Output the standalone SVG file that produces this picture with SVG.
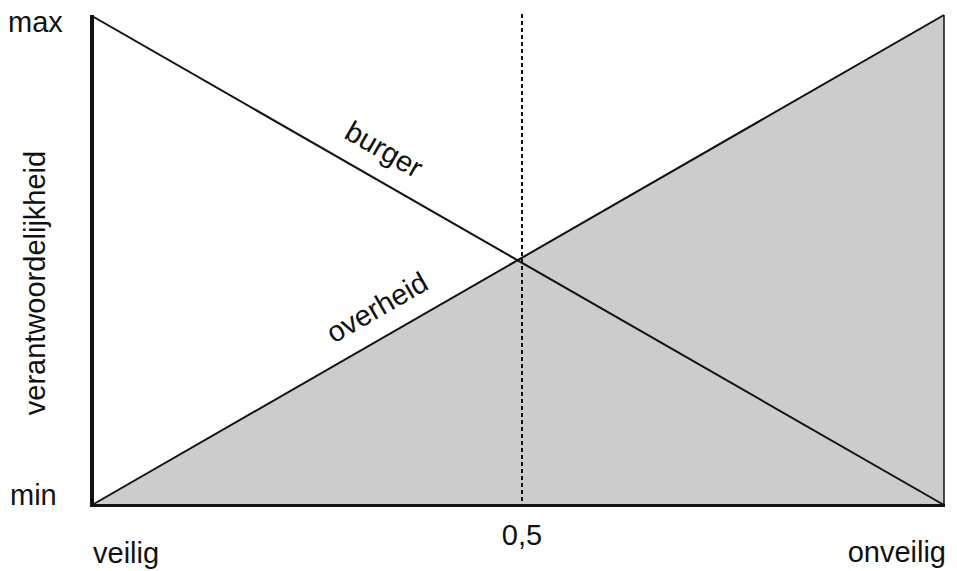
<svg xmlns="http://www.w3.org/2000/svg" width="957" height="571" viewBox="0 0 957 571">
<style>
text{font-family:"Liberation Sans",Arial,sans-serif;font-size:29px;fill:#111;}
.ln{stroke:#111;fill:none;}
</style>
<rect width="957" height="571" fill="#fff"/>
<g id="area">
<polygon points="92,505 944,15 944,505" fill="#cccccc"/>
</g>
<g id="connectors">
<line id="overheid-line" class="ln" x1="92" y1="505" x2="944" y2="15" stroke-width="2"/>
<line id="burger-line" class="ln" x1="92" y1="16" x2="944" y2="505" stroke-width="2"/>
<line id="right-edge" class="ln" x1="944" y1="15" x2="944" y2="505" stroke-width="1.5"/>
<line id="midline" class="ln" x1="522" y1="14" x2="522" y2="505" stroke-width="2" stroke-dasharray="4,3"/>
<line id="x-axis" class="ln" x1="90" y1="505.5" x2="945" y2="505.5" stroke-width="3"/>
<line id="y-axis" class="ln" x1="92" y1="15" x2="92" y2="507" stroke-width="4"/>
</g>
<g id="labels">
<text x="8" y="32">max</text>
<text x="10" y="505">min</text>
<text x="93" y="563">veilig</text>
<text x="522" y="545" text-anchor="middle">0,5</text>
<text x="946" y="562" text-anchor="end">onveilig</text>
<text transform="translate(45,283) rotate(-90)" text-anchor="middle">verantwoordelijkheid</text>
<text transform="translate(379,158) rotate(29.86)" text-anchor="middle">burger</text>
<text transform="translate(382,316) rotate(-29.9)" text-anchor="middle">overheid</text>
</g>
</svg>
